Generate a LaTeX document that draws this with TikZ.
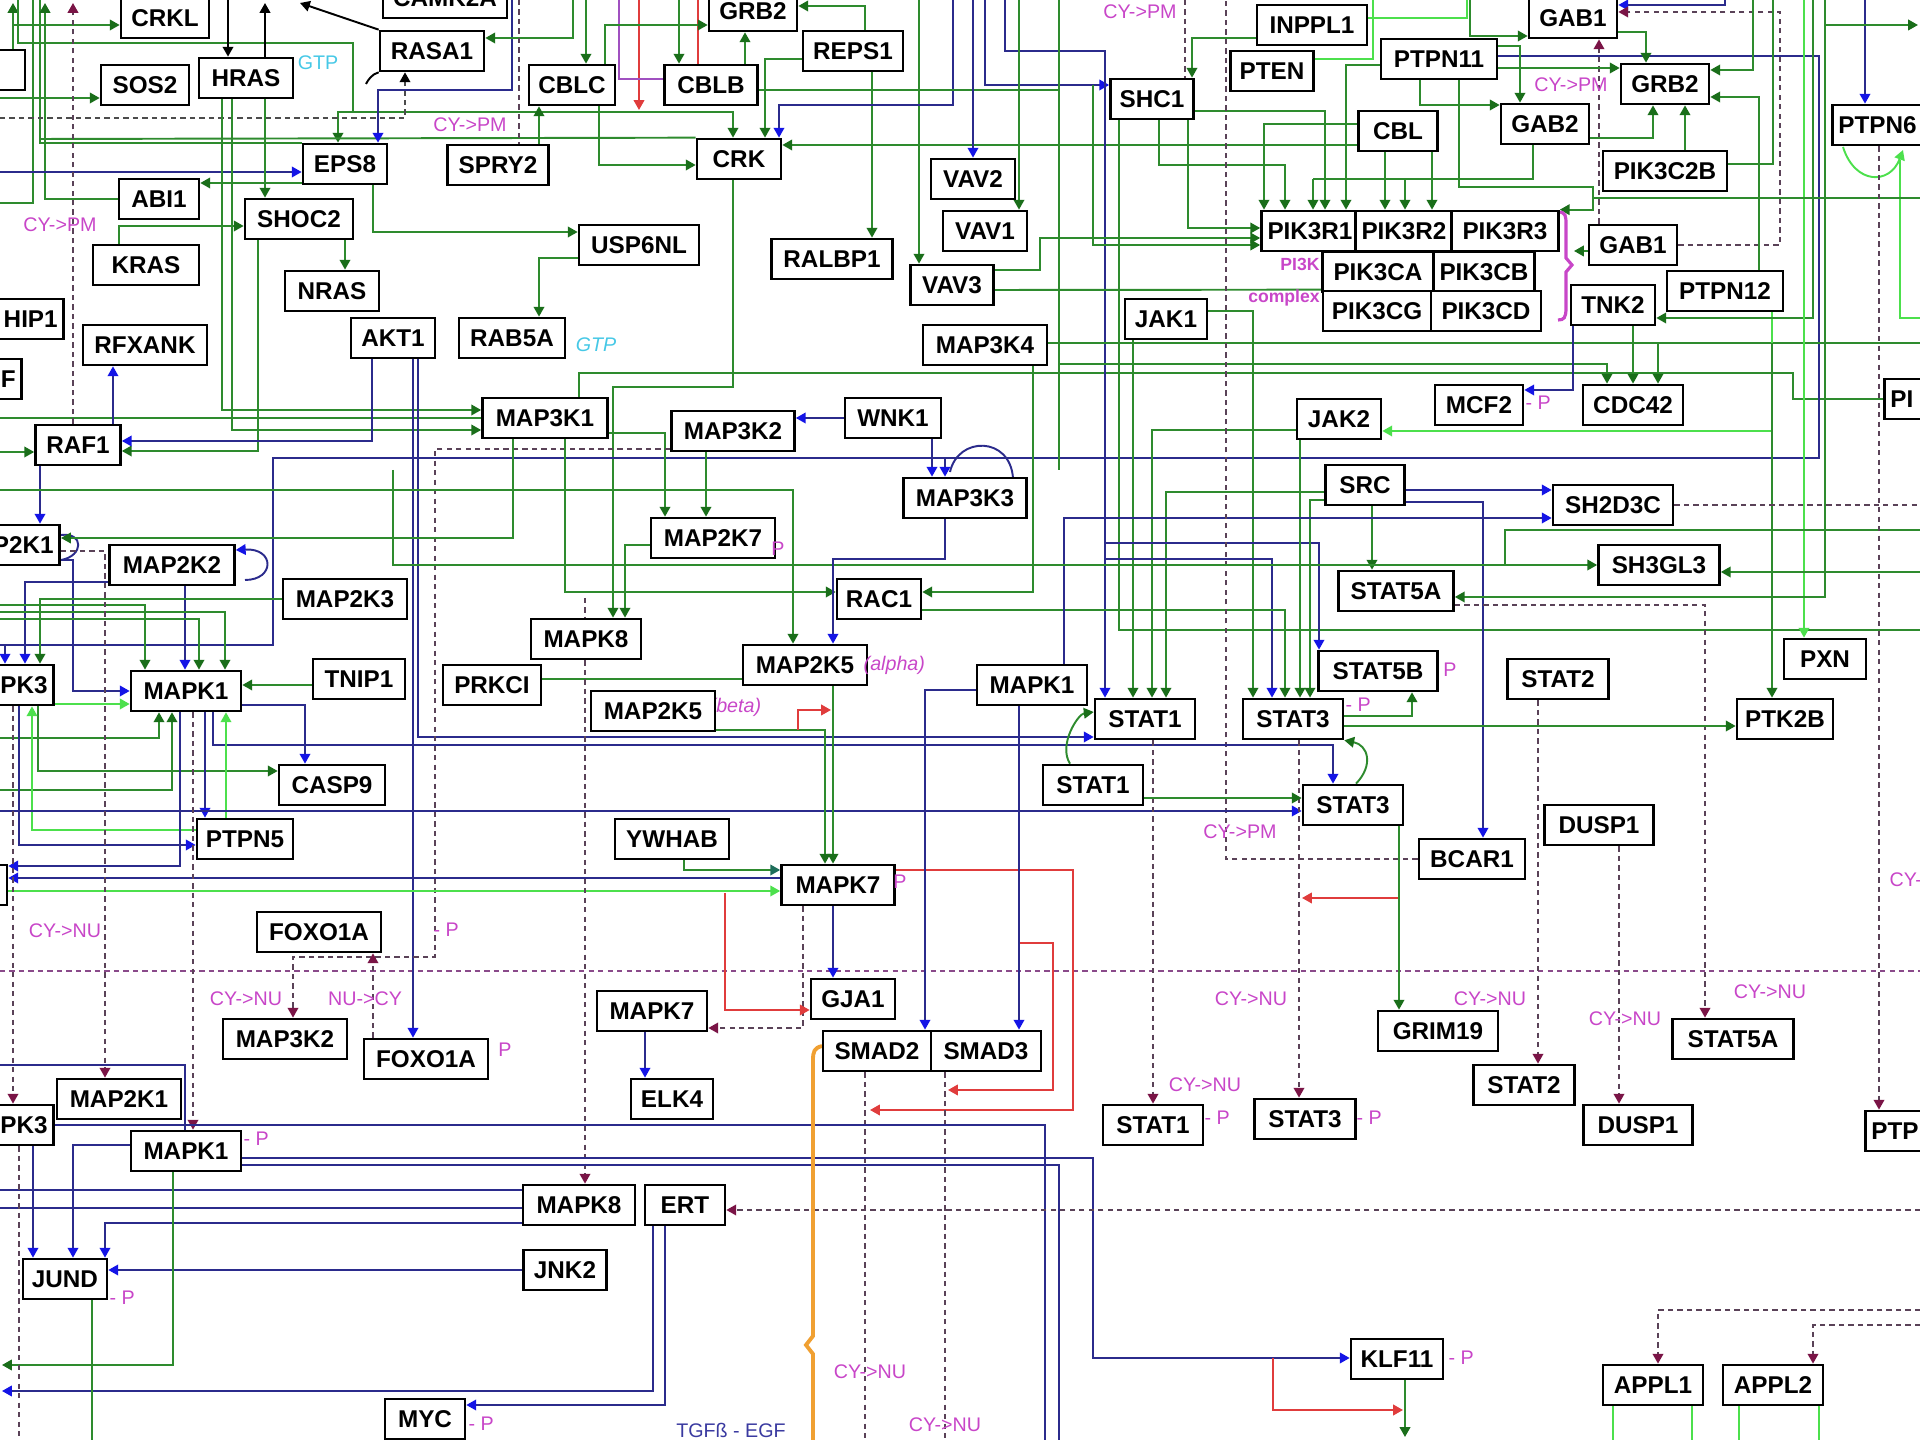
\documentclass[tikz,border=0pt]{standalone}
\usepackage{fontspec}
\setmainfont{Liberation Sans}
\usepackage{xcolor}
\usepackage{tikz}
\usetikzlibrary{arrows.meta,positioning,calc}
\definecolor{keggGreen}{HTML}{2E8B2E}
\definecolor{keggGreenTip}{HTML}{1A6E1A}
\definecolor{keggLime}{HTML}{4CE04C}
\definecolor{keggNavy}{HTML}{2B2B8C}
\definecolor{keggBlueTip}{HTML}{1414E6}
\definecolor{keggRed}{HTML}{E03C3C}
\definecolor{keggDash}{HTML}{5A4258}
\definecolor{keggMaroon}{HTML}{7A1446}
\definecolor{keggMagenta}{HTML}{C846C8}
\definecolor{keggCyan}{HTML}{46C8E6}
\definecolor{keggOrange}{HTML}{F0A032}
\definecolor{keggViolet}{HTML}{A050C0}
\definecolor{keggTeal}{HTML}{1E6E5A}
\definecolor{keggNucleus}{HTML}{8A4A8A}
\definecolor{keggInk}{HTML}{3A3AA0}
\pgfdeclarelayer{wires}
\pgfsetlayers{wires,main}
\tikzset{
  gene/.style={
    rectangle,
    draw=black,
    fill=white,
    line width=0.75pt,
    minimum height=0.4cm,
    inner xsep=0.06cm,
    inner ysep=0pt,
    font=\fontsize{6.9}{7}\selectfont\bfseries
  },
  wd/.style={minimum width=#1*0.01cm},
  cutl/.style={anchor=east, text width=#1*0.01cm, align=right},
  cutr/.style={anchor=west, text width=#1*0.01cm, align=left},
  note/.style={font=\fontsize{5.6}{6}\selectfont, text=keggMagenta, inner sep=0pt},
  gtp/.style={font=\fontsize{5.6}{6}\selectfont, text=keggCyan, inner sep=0pt},
  wire/.style={line width=0.55pt},
  ga/.style={wire, draw=keggGreen, -{Triangle[length=2.8pt,width=3pt,color=keggGreenTip]}},
  gl/.style={wire, draw=keggGreen},
  lga/.style={wire, draw=keggLime, -{Triangle[length=2.8pt,width=3pt,color=keggLime]}},
  lgl/.style={wire, draw=keggLime},
  ba/.style={wire, draw=keggNavy, -{Triangle[length=2.8pt,width=3pt,color=keggBlueTip]}},
  bl/.style={wire, draw=keggNavy},
  ra/.style={wire, draw=keggRed, -{Triangle[length=2.8pt,width=3pt,color=keggRed]}},
  rl/.style={wire, draw=keggRed},
  ta/.style={wire, draw=keggDash, dash pattern=on 1.5pt off 1.2pt, -{Triangle[length=2.8pt,width=3pt,color=keggMaroon]}},
  tl/.style={wire, draw=keggDash, dash pattern=on 1.5pt off 1.2pt},
  ka/.style={wire, draw=black, -{Triangle[length=2.8pt,width=3pt]}},
  kda/.style={wire, draw=black!70, dash pattern=on 1.5pt off 1.2pt, -{Triangle[length=2.8pt,width=3pt,color=black]}},
  kl/.style={wire, draw=black},
  vl/.style={wire, draw=keggViolet},
  teal/.style={wire, draw=keggGreen, -{Triangle[length=2.8pt,width=3pt,color=keggTeal]}},
  nucleus/.style={line width=0.55pt, draw=keggNucleus, dash pattern=on 1.5pt off 1.2pt}
}

\begin{document}
\begin{tikzpicture}[x=0.01cm, y=-0.01cm]
  \useasboundingbox (0,0) rectangle (1920,1440);
  \clip (0,0) rectangle (1920,1440);

  \node[gene,wd=88] (crkl) at (165,18) {CRKL};
  \node[gene,wd=86] (pbx) at (-18,70) {};
  \node[gene,wd=88] (sos2) at (145,85) {SOS2};
  \node[gene,wd=94] (hras) at (246,78) {HRAS};
  \node[gene,wd=104] (rasa1) at (432,51) {RASA1};
  \node[gene,wd=124] (camk) at (445,-2) {CAMK2A};
  \node[gene,wd=84] (eps8) at (345,164) {EPS8};
  \node[gene,wd=80] (abi1) at (159,199) {ABI1};
  \node[gene,wd=108] (shoc2) at (299,219) {SHOC2};
  \node[gene,wd=106] (kras) at (146,265) {KRAS};
  \node[gene,wd=94] (nras) at (332,291) {NRAS};
  \node[gene,cutl=83] (hip1) at (65,319) {HIP1};
  \node[gene,wd=124] (rfxank) at (145,345) {RFXANK};
  \node[gene,cutl=41] (fbox) at (23,379) {F};
  \node[gene,wd=84] (akt1) at (393,338) {AKT1};
  \node[gene,wd=85] (raf1) at (78,445) {RAF1};
  \node[gene,wd=106] (rab5a) at (512,338) {RAB5A};
  \node[gene,wd=88] (grb2a) at (753,11) {GRB2};
  \node[gene,wd=86] (cblc) at (572,85) {CBLC};
  \node[gene,wd=93] (cblb) at (711,85) {CBLB};
  \node[gene,wd=100] (reps1) at (853,51) {REPS1};
  \node[gene,wd=101] (spry2) at (498,165) {SPRY2};
  \node[gene,wd=84] (crk) at (739,159) {CRK};
  \node[gene,wd=120] (usp6nl) at (639,245) {USP6NL};
  \node[gene,wd=121] (ralbp1) at (832,259) {RALBP1};
  \node[gene,wd=84] (vav2) at (973,179) {VAV2};
  \node[gene,wd=84] (vav1) at (985,231) {VAV1};
  \node[gene,wd=83] (vav3) at (952,285) {VAV3};
  \node[gene,wd=124] (map3k4) at (985,345) {MAP3K4};
  \node[gene,wd=125] (map3k1) at (545,418) {MAP3K1};
  \node[gene,wd=123] (map3k2) at (733,431) {MAP3K2};
  \node[gene,wd=96] (wnk1) at (893,418) {WNK1};
  \node[gene,wd=123] (map3k3) at (965,498) {MAP3K3};
  \node[gene,wd=110] (inppl1) at (1312,25) {INPPL1};
  \node[gene,wd=83] (pten) at (1272,71) {PTEN};
  \node[gene,wd=116] (ptpn11) at (1439,59) {PTPN11};
  \node[gene,wd=83] (shc1) at (1152,99) {SHC1};
  \node[gene,wd=79] (cbl) at (1398,131) {CBL};
  \node[gene,wd=94] (pik3r1) at (1310,231) {PIK3R1};
  \node[gene,wd=95] (pik3r2) at (1404,231) {PIK3R2};
  \node[gene,wd=107] (pik3r3) at (1505,231) {PIK3R3};
  \node[gene,wd=111] (pik3ca) at (1378,272) {PIK3CA};
  \node[gene,wd=100] (pik3cb) at (1484,272) {PIK3CB};
  \node[gene,wd=108] (pik3cg) at (1377,311) {PIK3CG};
  \node[gene,wd=110] (pik3cd) at (1486,311) {PIK3CD};
  \node[gene,wd=82] (jak1) at (1166,319) {JAK1};
  \node[gene,wd=84] (jak2) at (1339,419) {JAK2};
  \node[gene,wd=79] (src) at (1365,485) {SRC};
  \node[gene,wd=88] (gab1a) at (1573,18) {GAB1};
  \node[gene,wd=88] (grb2b) at (1665,84) {GRB2};
  \node[gene,wd=88] (gab2) at (1545,124) {GAB2};
  \node[gene,wd=124] (pik3c2b) at (1665,171) {PIK3C2B};
  \node[gene,wd=88] (gab1b) at (1633,245) {GAB1};
  \node[gene,wd=84] (tnk2) at (1613,305) {TNK2};
  \node[gene,wd=116] (ptpn12) at (1725,291) {PTPN12};
  \node[gene,wd=88] (mcf2) at (1479,405) {MCF2};
  \node[gene,wd=100] (cdc42) at (1633,405) {CDC42};
  \node[gene,cutr=90] (ptpn6) at (1831,125) {PTPN6};
  \node[gene,cutr=60] (pibox) at (1883,399) {PI};
  \node[gene,cutl=89] (map2k1a) at (61,545) {P2K1};
  \node[gene,wd=125] (map2k2) at (172,565) {MAP2K2};
  \node[gene,wd=124] (map2k3) at (345,599) {MAP2K3};
  \node[gene,cutl=83] (mapk3a) at (55,685) {PK3};
  \node[gene,wd=110] (mapk1a) at (186,691) {MAPK1};
  \node[gene,wd=92] (tnip1) at (359,679) {TNIP1};
  \node[gene,wd=106] (casp9) at (332,785) {CASP9};
  \node[gene,wd=96] (ptpn5) at (245,839) {PTPN5};
  \node[gene,wd=98] (prkci) at (492,685) {PRKCI};
  \node[gene,wd=124] (foxo1a) at (319,932) {FOXO1A};
  \node[gene,wd=74] (sbox) at (-30,885) {};
  \node[gene,wd=124] (map2k7) at (713,538) {MAP2K7};
  \node[gene,wd=84] (rac1) at (879,599) {RAC1};
  \node[gene,wd=110] (mapk8a) at (586,639) {MAPK8};
  \node[gene,wd=124] (map2k5a) at (805,665) {MAP2K5};
  \node[gene,wd=124] (map2k5b) at (653,711) {MAP2K5};
  \node[gene,wd=114] (ywhab) at (672,839) {YWHAB};
  \node[gene,wd=113] (mapk7a) at (838,885) {MAPK7};
  \node[gene,wd=110] (mapk1b) at (1032,685) {MAPK1};
  \node[gene,wd=100] (stat1a) at (1145,719) {STAT1};
  \node[gene,wd=100] (stat1b) at (1093,785) {STAT1};
  \node[gene,wd=100] (stat3a) at (1293,719) {STAT3};
  \node[gene,wd=100] (stat3b) at (1353,805) {STAT3};
  \node[gene,wd=115] (stat5a) at (1396,591) {STAT5A};
  \node[gene,wd=119] (stat5b) at (1378,671) {STAT5B};
  \node[gene,wd=106] (bcar1) at (1472,859) {BCAR1};
  \node[gene,wd=120] (sh2d3c) at (1613,505) {SH2D3C};
  \node[gene,wd=121] (sh3gl3) at (1659,565) {SH3GL3};
  \node[gene,wd=101] (stat2a) at (1558,679) {STAT2};
  \node[gene,wd=82] (pxn) at (1825,659) {PXN};
  \node[gene,wd=96] (ptk2b) at (1785,719) {PTK2B};
  \node[gene,wd=109] (dusp1a) at (1599,825) {DUSP1};
  \node[gene,wd=124] (map3k2b) at (285,1039) {MAP3K2};
  \node[gene,wd=124] (foxo1b) at (426,1059) {FOXO1A};
  \node[gene,cutl=83] (mapk3b) at (55,1125) {PK3};
  \node[gene,wd=124] (map2k1b) at (119,1099) {MAP2K1};
  \node[gene,wd=110] (mapk1c) at (186,1151) {MAPK1};
  \node[gene,wd=84] (jund) at (65,1279) {JUND};
  \node[gene,wd=80] (myc) at (425,1419) {MYC};
  \node[gene,wd=110] (mapk7b) at (652,1011) {MAPK7};
  \node[gene,wd=84] (gja1) at (853,999) {GJA1};
  \node[gene,wd=108] (smad2) at (877,1051) {SMAD2};
  \node[gene,wd=110] (smad3) at (986,1051) {SMAD3};
  \node[gene,wd=82] (elk4) at (672,1099) {ELK4};
  \node[gene,wd=112] (mapk8b) at (579,1205) {MAPK8};
  \node[gene,wd=80] (ert) at (685,1205) {ERT};
  \node[gene,wd=83] (jnk2) at (565,1270) {JNK2};
  \node[gene,wd=100] (stat1c) at (1153,1125) {STAT1};
  \node[gene,wd=101] (stat3c) at (1305,1119) {STAT3};
  \node[gene,wd=120] (grim19) at (1438,1031) {GRIM19};
  \node[gene,wd=92] (klf11) at (1397,1359) {KLF11};
  \node[gene,wd=101] (stat2b) at (1524,1085) {STAT2};
  \node[gene,wd=109] (dusp1b) at (1638,1125) {DUSP1};
  \node[gene,wd=121] (stat5ab) at (1733,1039) {STAT5A};
  \node[gene,cutr=60] (ptpn6b) at (1864,1131) {PTP};
  \node[gene,wd=100] (appl1) at (1653,1385) {APPL1};
  \node[gene,wd=100] (appl2) at (1773,1385) {APPL2};

  \node[gtp] at (318,63) {GTP};
  \node[gtp,font=\fontsize{5.6}{6}\selectfont\itshape] at (596,345) {GTP};
  \node[note] at (60,225) {CY->PM};
  \node[note] at (470,125) {CY->PM};
  \node[note] at (1140,12) {CY->PM};
  \node[note] at (1571,85) {CY->PM};
  \node[note] at (1240,832) {CY->PM};
  \node[note] at (65,931) {CY->NU};
  \node[note] at (246,999) {CY->NU};
  \node[note] at (365,999) {NU->CY};
  \node[note] at (1251,999) {CY->NU};
  \node[note] at (1205,1085) {CY->NU};
  \node[note] at (1490,999) {CY->NU};
  \node[note] at (1625,1019) {CY->NU};
  \node[note] at (1770,992) {CY->NU};
  \node[note] at (870,1372) {CY->NU};
  \node[note] at (945,1425) {CY->NU};
  \node[note,anchor=west] at (1889,880) {CY-};
  \node[note] at (778,549) {P};
  \node[note] at (900,882) {P};
  \node[note,anchor=west] at (1345,705) {- P};
  \node[note] at (1450,670) {P};
  \node[note,anchor=west] at (1525,403) {- P};
  \node[note,anchor=west] at (433,930) {- P};
  \node[note] at (505,1050) {P};
  \node[note,anchor=west] at (243,1139) {- P};
  \node[note,anchor=west] at (109,1298) {- P};
  \node[note,anchor=west] at (468,1424) {- P};
  \node[note,anchor=west] at (1204,1118) {- P};
  \node[note,anchor=west] at (1356,1118) {- P};
  \node[note,anchor=west] at (1448,1358) {- P};
  \node[note,anchor=west,font=\fontsize{5.6}{6}\selectfont\itshape] at (863,665) {(alpha)};
  \node[note,font=\fontsize{5}{6}\selectfont\bfseries] at (1300,264) {PI3K};
  \node[note,font=\fontsize{5}{6}\selectfont\bfseries] at (1284,298) {complex};
  \node[note,text=keggInk] at (731,1430) {TGFß - EGF};

  \begin{pgfonlayer}{wires}
    \clip (0,0) rectangle (1920,1440);
    \node[note,anchor=west,font=\fontsize{5.6}{6}\selectfont\itshape] at (709,707) {(beta)};
    \draw[nucleus] (0,971) -- (1920,971);

    \draw[ga] (pbx.north -| 13,0) -- (13,3);
    \draw[ga] (13,25) -- (crkl.west |- 0,25);
    \draw[gl] (18,0) |- (353,43) -- (353,112);
    \draw[ga] (353,112) -| (eps8.north -| 338,0);
    \draw[ga] (338,112) -| (crk.north -| 733,0);
    \draw[ra] (639,0) -- (639,110);
    \draw[gl] (33,0) |- (0,203);
    \draw[gl] (40,0) |- (eps8.north west);
    \draw[gl] (40,139) -- (crk.north west);
    \draw[ga] (abi1.west) -| (45,3);
    \draw[ga] (0,98) -- (sos2.west |- 0,98);
    \draw[kda] (0,118) -| (rasa1.south -| 405,0);
    \draw[ba] (512,0) |- (378,90) -- (eps8.north -| 378,0);
    \draw[ba] (0,172) -- (eps8.west |- 0,172);
    \draw[ga] (eps8.west |- 0,183) -- (abi1.east |- 0,183);
    \draw[ga] (hras.south -| 265,0) -- (shoc2.north -| 265,0);
    \draw[ga] (hras.south -| 222,0) |- (map3k1.west |- 0,410);
    \draw[ga] (hras.south -| 232,0) |- (map3k1.west |- 0,430);
    \draw[gl] (0,418) -- (map3k1.west |- 0,418);
    \draw[ga] (kras.north -| 119,0) |- (shoc2.west |- 0,226);
    \draw[ga] (shoc2.south -| 345,0) -- (nras.north -| 345,0);
    \draw[ga] (shoc2.south -| 258,0) |- (raf1.east |- 0,451);
    \draw[ba] (akt1.south -| 372,0) |- (raf1.east |- 0,441);
    \draw[ga] (0,452) -- (raf1.west |- 0,452);
    \draw[ba] (raf1.north -| 113,0) -- (rfxank.south -| 113,0);
    \draw[ta] (raf1.north -| 73,0) -- (73,3);
    \draw[ba] (raf1.south -| 40,0) -- (map2k1a.north -| 40,0);
    \draw[ka] (hras.north -| 265,0) -- (265,3);
    \draw[ka] (228,0) -- (hras.north -| 228,0);
    \draw[ka] (rasa1.north west) -- (300,3);
    \draw[kl] (rasa1.south west) .. controls (372,74) and (368,80) .. (366,84);
    \draw[ga] (573,0) |- (rasa1.east |- 0,38);
    \draw[ga] (eps8.south -| 373,0) |- (usp6nl.west |- 0,232);
    \draw[ga] (usp6nl.west |- 0,258) -| (rab5a.north -| 539,0);
    \draw[ba] (akt1.south -| 413,0) -- (foxo1b.north -| 413,0);
    \draw[ba] (akt1.south -| 418,0) |- (stat1a.west |- 0,737);

    \draw[vl] (619,0) |- (cblb.west |- 0,79);
    \draw[rl] (698,0) -- (cblb.north -| 698,0);
    \draw[ga] (586,0) -- (cblc.north -| 586,0);
    \draw[ga] (679,0) -- (cblb.north -| 679,0);
    \draw[ga] (cblc.north -| 605,0) |- (grb2a.west |- 0,25);
    \draw[ga] (cblb.north -| 745,0) -- (grb2a.south -| 745,0);
    \draw[ga] (reps1.north -| 865,0) |- (grb2a.east |- 0,6);
    \draw[ga] (reps1.west |- 0,59) -| (crk.north -| 765,0);
    \draw[ga] (reps1.south -| 872,0) -- (ralbp1.north -| 872,0);
    \draw[ga] (919,0) -- (vav3.north -| 919,0);
    \draw[ba] (953,0) |- (779,105) -- (crk.north -| 779,0);
    \draw[gl] (cblb.east |- 0,90) -- (1059,90);
    \draw[ga] (cbl.west |- 0,145) -- (crk.east |- 0,145);
    \draw[ga] (cblc.south -| 599,0) |- (crk.west |- 0,165);
    \draw[ga] (spry2.north -| 539,0) -- (cblc.south -| 539,0);
    \draw[tl] (519,0) -- (spry2.north -| 519,0);
    \draw[ga] (crk.south -| 733,0) |- (613,387) -- (mapk8a.north -| 613,0);
    \draw[gl] (map3k1.north -| 579,0) |- (1793,373) |- (pibox.west);
    \draw[ba] (wnk1.west) -- (map3k2.east |- 0,418);
    \draw[ba] (wnk1.south -| 932,0) -- (map3k3.north -| 932,0);
    \draw[bl] (ptpn11.east |- 0,56) -| (1819,458) -- (273,458) |- (0,645);
    \draw[ba] (945,458) -- (map3k3.north -| 945,0);
    \draw[ba] (5,645) -- (mapk3a.north -| 5,0);
    \draw[bl] (950,472) .. controls (958,436) and (1010,436) .. (1013,478);
    \draw[ga] (map3k1.east |- 0,433) -| (map2k7.north -| 665,0);
    \draw[ga] (map3k2.south -| 706,0) -- (map2k7.north -| 706,0);
    \draw[ta] (map3k2.west |- 0,449) -| (435,957) -| (map3k2b.north -| 293,0);

    \draw[ba] (973,0) -- (vav2.north -| 973,0);
    \draw[ba] (985,0) |- (shc1.west |- 0,85);
    \draw[ba] (1005,0) |- (1105,51) -- (stat1a.north -| 1105,0);
    \draw[ga] (1019,0) -- (vav1.north -| 1019,0);
    \draw[ga] (map3k4.south -| 1033,0) |- (rac1.east |- 0,592);
    \draw[ga] (vav3.east |- 0,270) -| (1040,238) -- (pik3r1.west |- 0,238);
    \draw[gl] (vav3.east |- 0,290) -- (pik3cg.north west);
    \draw[gl] (1059,0) -- (1059,470);
    \draw[ga] (1093,85) |- (pik3r1.west |- 0,245);
    \draw[gl] (map3k4.east |- 0,343) -- (1920,343);
    \draw[ga] (1658,343) -- (cdc42.north -| 1658,0);
    \draw[ga] (1059,364) -| (cdc42.north -| 1607,0);
    \draw[gl] (shc1.south -| 1119,0) |- (1920,630);
    \draw[ga] (jak1.south -| 1133,0) -- (stat1a.north -| 1133,0);
    \draw[ga] (jak2.west |- 0,430) -| (stat1a.north -| 1152,0);
    \draw[ga] (src.west |- 0,492) -| (stat1a.north -| 1166,0);
    \draw[ga] (jak1.east |- 0,311) -| (stat3a.north -| 1253,0);
    \draw[ba] (1105,559) -| (stat3a.north -| 1272,0);
    \draw[ba] (1105,543) -| (stat5b.north -| 1319,0);
    \draw[ga] (rac1.east |- 0,610) -| (stat3a.north -| 1285,0);
    \draw[ga] (jak2.south -| 1300,0) -- (stat3a.north -| 1300,0);
    \draw[ga] (src.west |- 0,500) -| (stat3a.north -| 1310,0);
    \draw[ga] (src.south -| 1372,0) -- (stat5a.north -| 1372,0);
    \draw[ba] (src.east |- 0,490) -- (sh2d3c.west |- 0,490);
    \draw[ba] (mapk1b.north -| 1064,0) |- (sh2d3c.west |- 0,518);
    \draw[ba] (src.east |- 0,502) -| (bcar1.north -| 1483,0);
    \draw[lga] (ptpn12.south -| 1772,0) |- (jak2.east |- 0,431);
    \draw[ga] (cbl.west |- 0,124) -| (pik3r1.north -| 1264,0);
    \draw[ga] (cbl.south -| 1385,0) -- (pik3r2.north -| 1385,0);
    \draw[ga] (cbl.south -| 1432,0) -- (pik3r2.north -| 1432,0);
    \draw[ga] (shc1.east |- 0,111) -| (pik3r1.north -| 1325,0);
    \draw[ga] (shc1.south -| 1159,0) |- (1285,165) -- (pik3r1.north -| 1285,0);
    \draw[ga] (shc1.south -| 1188,0) |- (pik3r1.west |- 0,228);
    \draw[ga] (ptpn11.west |- 0,65) -| (pik3r1.north -| 1346,0);
    \draw[gl] (gab2.south -| 1533,0) |- (1313,179);
    \draw[ga] (1313,179) -- (pik3r1.north -| 1313,0);
    \draw[ga] (1405,179) -- (pik3r2.north -| 1405,0);
    \draw[ga] (ptpn11.south -| 1459,0) |- (1593,187) |- (pik3r3.north east);
    \draw[ga] (inppl1.west |- 0,38) -| (shc1.north -| 1192,0);
    \draw[tl] (1185,0) -- (shc1.north -| 1185,0);
    \draw[tl] (bcar1.west) -| (1226,0);
    \draw[lgl] (pten.east |- 0,59) -| (1373,0);
    \draw[lgl] (inppl1.east |- 0,18) -| (1467,0);

    \draw[ba] (1725,0) |- (gab1a.east |- 0,5);
    \draw[ta] (gab1b.east) -| (1780,12) -- (gab1a.east |- 0,12);
    \draw[ta] (gab1b.north -| 1599,0) -- (gab1a.south -| 1599,0);
    \draw[ga] (ptpn11.east |- 0,46) -| (gab2.north -| 1520,0);
    \draw[ga] (1470,0) |- (gab1a.west |- 0,36);
    \draw[ga] (gab1a.east |- 0,32) -| (grb2b.north -| 1646,0);
    \draw[ga] (ptpn11.east |- 0,68) -- (grb2b.west |- 0,68);
    \draw[ga] (1753,0) |- (grb2b.east |- 0,70);
    \draw[ga] (ptpn12.north -| 1759,0) |- (grb2b.east |- 0,97);
    \draw[ga] (gab2.east |- 0,138) -| (grb2b.south -| 1653,0);
    \draw[ga] (pik3c2b.north -| 1685,0) -- (grb2b.south -| 1685,0);
    \draw[gl] (pik3c2b.east |- 0,164) -| (1773,0);
    \draw[ga] (ptpn11.south -| 1420,0) |- (gab2.west |- 0,105);
    \draw[ga] (gab1b.west |- 0,251) -- (1574,251);
    \draw[ga] (1813,0) |- (tnk2.east |- 0,318);
    \draw[ba] (tnk2.south -| 1573,0) |- (mcf2.east |- 0,390);
    \draw[ga] (tnk2.south -| 1633,0) -- (cdc42.north -| 1633,0);
    \draw[ba] (1865,0) -- (ptpn6.north -| 1865,0);
    \draw[lga] (1843,147) .. controls (1855,185) and (1890,185) .. (1903,150);
    \draw[lgl] (1900,160) |- (1920,318);
    \draw[lga] (1804,0) -- (pxn.north -| 1804,0);
    \draw[ga] (1772,343) -- (ptk2b.north -| 1772,0);
    \draw[gl] (1593,198) -- (1920,198);
    \draw[ga] (1825,25) -- (1918,25);
    \draw[ga] (1825,0) |- (stat5a.east |- 0,597);
    \draw[ga] (393,470) |- (sh3gl3.west |- 0,565);
    \draw[gl] (1505,565) |- (1920,530);
    \draw[ga] (1920,572) -- (sh3gl3.east |- 0,572);
    \draw[ta] (stat5a.east |- 0,605) -| (stat5ab.north -| 1705,0);
    \draw[ga] (stat3a.east |- 0,726) -- (ptk2b.west |- 0,726);
    \draw[tl] (sh2d3c.east) -- (1920,505);
    \draw[ta] (ptpn6.south -| 1879,0) -- (ptpn6b.north -| 1879,0);
    \draw[ta] (stat2a.south -| 1538,0) -- (stat2b.north -| 1538,0);
    \draw[ta] (dusp1a.south -| 1619,0) -- (dusp1b.north -| 1619,0);

    \draw[bl] (61,535) .. controls (84,532) and (84,556) .. (61,560);
    \draw[ba] (245,580) .. controls (275,580) and (275,548) .. (map2k2.east |- 0,550);
    \draw[ba] (map2k1a.east |- 0,560) -| (73,691) -- (mapk1a.west |- 0,691);
    \draw[ba] (map2k2.south -| 185,0) -- (mapk1a.north -| 185,0);
    \draw[ba] (map2k2.west |- 0,582) -| (mapk3a.north -| 25,0);
    \draw[ga] (map2k3.west) -| (mapk3a.north -| 40,0);
    \draw[ga] (0,605) -| (mapk1a.north -| 145,0);
    \draw[ga] (0,612) -| (mapk1a.north -| 225,0);
    \draw[ga] (0,619) -| (mapk1a.north -| 199,0);
    \draw[ga] (tnip1.west |- 0,685) -- (mapk1a.east |- 0,685);
    \draw[lga] (0,704) -- (mapk1a.west |- 0,704);
    \draw[ga] (0,738) -| (mapk1a.south -| 159,0);
    \draw[ga] (0,790) -| (mapk1a.south -| 172,0);
    \draw[ga] (mapk3a.south -| 38,0) |- (casp9.west |- 0,771);
    \draw[ba] (mapk1a.east |- 0,705) -| (casp9.north -| 305,0);
    \draw[ba] (mapk1a.south -| 205,0) -- (ptpn5.north -| 205,0);
    \draw[ba] (mapk1a.south -| 213,0) |- (1333,745) -- (stat3b.north -| 1333,0);
    \draw[ba] (mapk3a.south -| 19,0) |- (ptpn5.west |- 0,845);
    \draw[lga] (ptpn5.north -| 226,0) -- (mapk1a.south -| 226,0);
    \draw[lga] (ptpn5.west |- 0,830) -| (mapk3a.south -| 32,0);
    \draw[ba] (mapk1a.south -| 180,0) |- (sbox.east |- 0,866);
    \draw[ba] (mapk7a.west |- 0,878) -- (sbox.east |- 0,878);
    \draw[ba] (0,811) -- (stat3b.west |- 0,811);
    \draw[lga] (0,891) -- (mapk7a.west |- 0,891);
    \draw[ta] (foxo1b.north -| 373,0) -- (foxo1a.south -| 373,0);
    \draw[ta] (map2k1a.east |- 0,551) -| (map2k1b.north -| 105,0);
    \draw[ta] (mapk1a.south -| 193,0) -- (mapk1c.north -| 193,0);
    \draw[ta] (mapk3a.south -| 13,0) -- (mapk3b.north -| 13,0);
    \draw[ga] (map3k1.south -| 513,0) |- (map2k1a.east |- 0,538);
    \draw[ga] (map3k1.south -| 565,0) |- (rac1.west |- 0,592);
    \draw[ga] (map2k7.west |- 0,545) -| (mapk8a.north -| 625,0);
    \draw[ga] (0,490) -| (map2k5a.north -| 793,0);
    \draw[ba] (map3k3.south -| 945,0) |- (833,559) -- (map2k5a.north -| 833,0);
    \draw[gl] (prkci.east |- 0,679) -- (map2k5a.west |- 0,679);
    \draw[ga] (map2k5a.south -| 833,0) -- (mapk7a.north -| 833,0);
    \draw[ga] (map2k5b.east |- 0,730) -| (mapk7a.north -| 825,0);
    \draw[ra] (798,730) |- (831,710);
    \draw[tl] (585,598) -- (mapk8a.north -| 585,0);
    \draw[ta] (mapk8a.south -| 585,0) -- (mapk8b.north -| 585,0);
    \draw[teal] (ywhab.south -| 684,0) |- (mapk7a.west |- 0,870);
    \draw[ba] (mapk7a.south -| 833,0) -- (gja1.north -| 833,0);
    \draw[ta] (mapk7a.south -| 803,0) |- (mapk7b.east |- 0,1028);
    \draw[ra] (725,893) |- (gja1.west |- 0,1010);
    \draw[ra] (mapk7a.east |- 0,870) -| (1073,1110) -- (870,1110);
    \draw[ra] (1019,943) -| (1053,1090) -- (948,1090);
    \draw[ra] (1399,898) -- (1302,898);
    \draw[ba] (mapk1b.west |- 0,690) -| (smad2.north -| 925,0);
    \draw[ba] (mapk1b.south -| 1019,0) -- (smad3.north -| 1019,0);
    \draw[tl] (smad2.south -| 865,0) -- (865,1440);
    \draw[tl] (smad3.south -| 945,0) -- (945,1440);
    \draw[ga] (stat3b.south -| 1399,0) -- (grim19.north -| 1399,0);
    \draw[ta] (stat1a.south -| 1153,0) -- (stat1c.north -| 1153,0);
    \draw[ta] (stat3a.south -| 1299,0) -- (stat3c.north -| 1299,0);
    \draw[ga] (stat1b.north -| 1070,0) .. controls (1058,745) and (1078,714) .. (stat1a.west |- 0,712);
    \draw[ga] (stat1b.east |- 0,798) -- (stat3b.west |- 0,798);
    \draw[ga] (stat3b.north -| 1356,0) .. controls (1374,765) and (1368,745) .. (stat3a.south east);
    \draw[ga] (stat3a.east |- 0,716) -| (stat5b.south -| 1412,0);

    \draw[bl] (0,1065) -| (mapk1c.north -| 185,0);
    \draw[bl] (mapk3b.east |- 0,1125) -| (1045,1440);
    \draw[ba] (mapk1c.east |- 0,1158) -| (1093,1358) -- (klf11.west |- 0,1358);
    \draw[bl] (mapk1c.east |- 0,1165) -| (1059,1440);
    \draw[ra] (1273,1358) |- (1403,1410);
    \draw[ga] (klf11.south -| 1405,0) -- (1405,1437);
    \draw[ba] (mapk1c.west |- 0,1145) -| (jund.north -| 73,0);
    \draw[ba] (mapk3b.south -| 33,0) -- (jund.north -| 33,0);
    \draw[ba] (mapk8b.west |- 0,1223) -| (jund.north -| 105,0);
    \draw[bl] (0,1190) -- (mapk8b.west |- 0,1190);
    \draw[bl] (0,1208) -- (mapk8b.west |- 0,1208);
    \draw[ba] (jnk2.west) -- (jund.east |- jnk2.west);
    \draw[ga] (mapk1c.south -| 173,0) |- (2,1365);
    \draw[ba] (ert.south -| 653,0) |- (2,1391);
    \draw[ba] (ert.south -| 665,0) |- (myc.east |- 0,1405);
    \draw[ta] (1920,1210) -- (ert.east |- 0,1210);
    \draw[ba] (mapk7b.south -| 645,0) -- (elk4.north -| 645,0);
    \draw[gl] (jund.south -| 92,0) -- (92,1440);
    \draw[tl] (mapk3b.south -| 19,0) -- (19,1440);
    \draw[ta] (1920,1310) -| (appl1.north -| 1658,0);
    \draw[ta] (1920,1325) -| (appl2.north -| 1813,0);
    \draw[lgl] (appl1.south -| 1613,0) -- (1613,1440);
    \draw[lgl] (appl1.south -| 1692,0) -- (1692,1440);
    \draw[lgl] (appl2.south -| 1739,0) -- (1739,1440);
    \draw[lgl] (appl2.south -| 1819,0) -- (1819,1440);

    \draw[keggOrange, line width=1.1pt] (822,1046) .. controls (814,1048) and (813,1052) .. (813,1060) -- (813,1336) -- (806,1345) -- (813,1354) -- (813,1440);
    \draw[keggMagenta, line width=0.9pt] (1558,212) .. controls (1566,212) and (1566,216) .. (1566,225) -- (1566,258) -- (1572,265) -- (1566,272) -- (1566,308) .. controls (1566,318) and (1564,320) .. (1558,320);
  \end{pgfonlayer}
\end{tikzpicture}
\end{document}
